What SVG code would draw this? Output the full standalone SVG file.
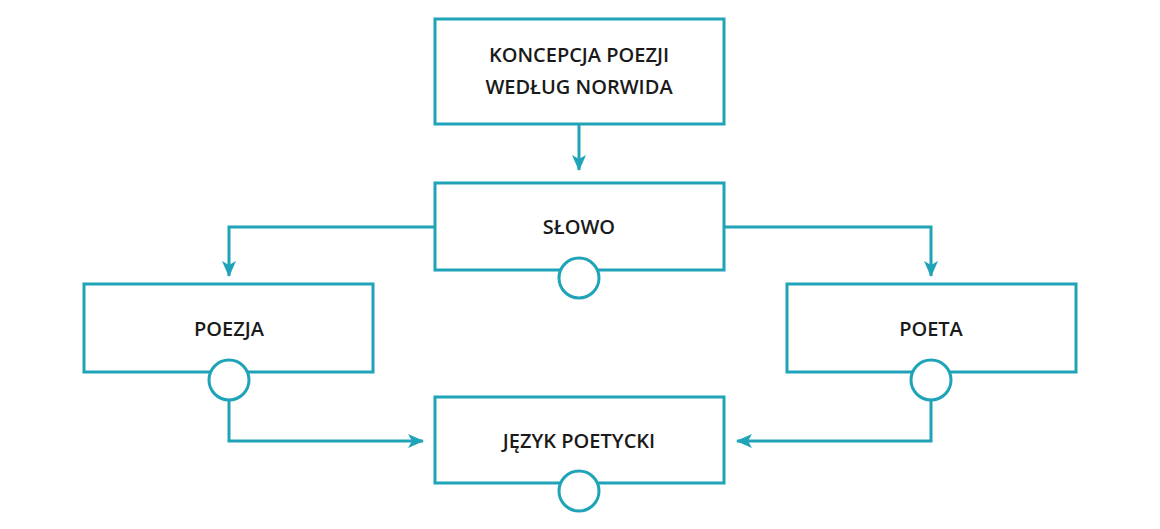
<svg xmlns="http://www.w3.org/2000/svg" width="1160" height="529" viewBox="0 0 1160 529">
<style>
.b{fill:#fff;stroke:#1fa3b8;stroke-width:3}
.c{fill:none;stroke:#1fa3b8;stroke-width:3}
text{font-family:"Open Sans","Noto Sans",sans-serif;font-weight:600;font-size:20px;fill:#1a1a1a;text-anchor:middle}
</style>
<defs><marker id="a" markerWidth="10" markerHeight="10" refX="9" refY="5" orient="auto" markerUnits="userSpaceOnUse" viewBox="0 0 10 10"><path d="M0,0 L10,5 L0,10 L2,5 Z" fill="#1fa3b8"/></marker>
<marker id="ah" markerWidth="16" markerHeight="14" refX="15" refY="7" orient="auto" markerUnits="userSpaceOnUse" viewBox="0 0 16 14"><path d="M0,0 L16,7 L0,14 L4,7 Z" fill="#1fa3b8"/></marker></defs>
<g id="connectors">
<path class="c" d="M579,124 V170" marker-end="url(#ah)"/>
<path class="c" d="M435,227 H229 V276" marker-end="url(#ah)"/>
<path class="c" d="M724,227 H931 V276" marker-end="url(#ah)"/>
<path class="c" d="M229,400 V441 H423" marker-end="url(#ah)"/>
<path class="c" d="M931,400 V441 H737" marker-end="url(#ah)"/>
</g>
<g id="n1"><rect class="b" x="435" y="19" width="289" height="105"/><text x="579" y="62">KONCEPCJA POEZJI</text><text x="579" y="94">WEDŁUG NORWIDA</text></g>
<g id="n2"><rect class="b" x="435" y="183" width="289" height="87"/><text x="579" y="234">SŁOWO</text><circle class="b" cx="579" cy="278" r="20"/></g>
<g id="n3"><rect class="b" x="84" y="284" width="289" height="88"/><text x="229" y="336">POEZJA</text><circle class="b" cx="229" cy="380" r="20"/></g>
<g id="n4"><rect class="b" x="787" y="284" width="289" height="88"/><text x="931" y="336">POETA</text><circle class="b" cx="931" cy="380" r="20"/></g>
<g id="n5"><rect class="b" x="435" y="397" width="289" height="86"/><text x="579" y="448">JĘZYK POETYCKI</text><circle class="b" cx="579" cy="491" r="20"/></g>
</svg>
